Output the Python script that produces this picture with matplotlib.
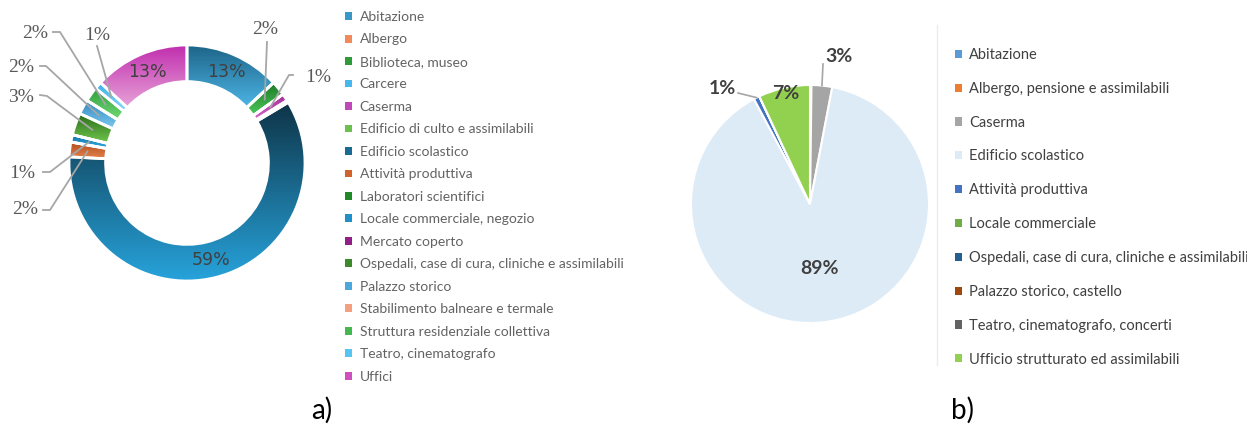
import numpy as np
import matplotlib.pyplot as plt
from matplotlib.patches import Patch
from matplotlib.colors import LinearSegmentedColormap

W, H = 1247, 425

# ---- chart a) data ----
cat_a = ['Abitazione', 'Albergo', 'Biblioteca, museo', 'Carcere', 'Caserma',
         'Edificio di culto e assimilabili', 'Edificio scolastico',
         'Attività produttiva', 'Laboratori scientifici',
         'Locale commerciale, negozio', 'Mercato coperto',
         'Ospedali, case di cura, cliniche e assimilabili', 'Palazzo storico',
         'Stabilimento balneare e termale', 'Struttura residenziale collettiva',
         'Teatro, cinematografo', 'Uffici']
val_a = [13, 0, 2, 0, 1, 0.3, 59, 2, 0, 1, 0, 3, 2, 0, 2, 1, 13]
top_a = ['#1D6488', '#E8743C', '#1E7A2A', '#2AA0D8', '#A02C98', '#5AB040',
         '#0E3447', '#B04E1E', '#186A1C', '#16709E', '#70186E', '#2A6A1C',
         '#3488C0', '#F0946A', '#2E9E3E', '#3AAEE6', '#C02EAE']
bot_a = ['#4DB6E6', '#F5A27A', '#4CCB5A', '#6CCCF4', '#DA6ACA', '#90DC78',
         '#27A3DB', '#E6824C', '#3AA040', '#34B2EA', '#B040A8', '#70C64C',
         '#7CCAF0', '#F8C0A0', '#72DA74', '#86DAF8', '#E8A4D8']
leg_a = ['#3A98C8', '#F08A5A', '#2E9A3A', '#48B8EC', '#C048B8', '#6CC050',
         '#1A6A96', '#D0622C', '#208A28', '#2090C8', '#902088', '#3C8A2C',
         '#4AA8DC', '#F4A080', '#44B850', '#58C4F2', '#D050C0']

# ---- chart b) data ----
cat_b = ['Abitazione', 'Albergo, pensione e assimilabili', 'Caserma',
         'Edificio scolastico', 'Attività produttiva', 'Locale commerciale',
         'Ospedali, case di cura, cliniche e assimilabili',
         'Palazzo storico, castello', 'Teatro, cinematografo, concerti',
         'Ufficio strutturato ed assimilabili']
val_b = [0.2, 0, 2.8, 89.2, 0.8, 0, 0, 0, 0, 7.0]
col_b = ['#5B9BD5', '#ED7D31', '#A5A5A5', '#DDEBF7', '#4472C4', '#70AD47',
         '#255E91', '#9E480E', '#636363', '#92D050']

fig = plt.figure(figsize=(W / 100, H / 100), dpi=100)


def px_axes(cx, cy, half):
    ax = fig.add_axes([(cx - half) / W, (H - cy - half) / H, 2 * half / W, 2 * half / H])
    ax.set_axis_off()
    return ax


def mid_point(w, r):
    t = np.deg2rad((w.theta1 + w.theta2) / 2)
    return r * np.cos(t), r * np.sin(t)


# ---------------- a) donut ----------------
ca_x, ca_y, ra = 187, 163, 118
ax_a = px_axes(ca_x, ca_y, 150)
wedges, _ = ax_a.pie(val_a, colors=top_a, startangle=90, counterclock=False,
                     wedgeprops=dict(width=0.31, linewidth=0))
grad = np.linspace(0, 1, 128).reshape(-1, 1)
for w, v, c1, c2 in zip(wedges, val_a, top_a, bot_a):
    if v == 0:
        continue
    e = w.get_path().get_extents()
    cm = LinearSegmentedColormap.from_list('g', [c1, c2])
    im = ax_a.imshow(grad, cmap=cm, extent=[e.x0, e.x1, e.y0, e.y1],
                     origin='upper', aspect='auto', zorder=2)
    im.set_clip_path(w)
edges, _ = ax_a.pie(val_a, startangle=90, counterclock=False,
                    wedgeprops=dict(width=0.31, fill=False, edgecolor='white', linewidth=2))
for e in edges:
    e.set_zorder(3)
lim = 150 / ra
ax_a.set_xlim(-lim, lim)
ax_a.set_ylim(-lim, lim)
ax_a.set_aspect('equal')


def to_a(px, py):
    return (px - ca_x) / ra, (ca_y - py) / ra


# labels inside the ring
for w, v in zip(wedges, val_a):
    if v >= 10:
        x, y = mid_point(w, 0.845)
        ax_a.text(x, y, f'{v:.0f}%', ha='center', va='center', fontsize=12.5,
                  color='#404040', zorder=5)

# labels outside with leader lines: text position, line points (px)
out_a = {
    2: ((265, 30), [(267, 42)]),
    4: ((318, 77), [(293, 75), (289, 75)]),
    7: ((25, 210), [(43, 210), (50, 210)]),
    9: ((22, 173), [(43, 172), (50, 172)]),
    11: ((21, 97), [(40, 95), (47, 96)]),
    12: ((21, 68), [(40, 66), (46, 66)]),
    14: ((35, 33), [(53, 32), (60, 32)]),
    15: ((97, 35), [(97, 46)]),
}
for i, (tp, pts) in out_a.items():
    tx, ty = to_a(*tp)
    ax_a.text(tx, ty, f'{val_a[i]:.0f}%', ha='center', va='center', fontsize=14,
              family='Liberation Serif', color='#595959', zorder=5)
    wx, wy = mid_point(wedges[i], 0.85)
    xs = [to_a(*p)[0] for p in pts] + [wx]
    ys = [to_a(*p)[1] for p in pts] + [wy]
    ax_a.plot(xs, ys, color='#A6A6A6', lw=1.3, zorder=4, clip_on=False)

fig.legend(handles=[Patch(facecolor=c, edgecolor='none') for c in leg_a], labels=cat_a,
           loc='upper left', bbox_to_anchor=(345 / W, 1 - 11 / H), frameon=False,
           prop=dict(family='Lato', size=10), labelcolor='#636363',
           handlelength=0.5, handleheight=0.5, handletextpad=0.55,
           labelspacing=0.755, borderpad=0, borderaxespad=0)

# ---------------- b) pie ----------------
cb_x, cb_y, rb = 810, 204, 119
ax_b = px_axes(cb_x, cb_y, 150)
wb, _ = ax_b.pie(val_b, colors=col_b, startangle=90, counterclock=False,
                 wedgeprops=dict(edgecolor='white', linewidth=1.5))
lim = 150 / rb
ax_b.set_xlim(-lim, lim)
ax_b.set_ylim(-lim, lim)
ax_b.set_aspect('equal')


def to_b(px, py):
    return (px - cb_x) / rb, (cb_y - py) / rb


lab_b = dict(family='Lato', fontsize=14, fontweight='bold', color='#404040',
             ha='center', va='center', zorder=5)
x, y = mid_point(wb[3], 0.55)
ax_b.text(x, y, f'{val_b[3]:.0f}%', **lab_b)
x, y = mid_point(wb[9], 0.95)
ax_b.text(x, y, f'{val_b[9]:.0f}%', **lab_b)
# 3% caserma
tx, ty = to_b(839, 57)
ax_b.text(tx, ty, f'{val_b[2]:.0f}%', **lab_b)
wx, wy = mid_point(wb[2], 1.0)
ax_b.plot([to_b(823, 64)[0], wx], [to_b(823, 64)[1], wy], color='#A6A6A6', lw=1.2, clip_on=False)
# 1% attività produttiva
tx, ty = to_b(722, 89)
ax_b.text(tx, ty, f'{val_b[4]:.0f}%', **lab_b)
wx, wy = mid_point(wb[4], 1.0)
ax_b.plot([to_b(738, 93)[0], wx], [to_b(738, 93)[1], wy], color='#A6A6A6', lw=1.2, clip_on=False)

fig.legend(handles=[Patch(facecolor=c, edgecolor='none') for c in col_b], labels=cat_b,
           loc='upper left', bbox_to_anchor=(955 / W, 1 - 48 / H), frameon=False,
           prop=dict(family='Lato', size=10.5), labelcolor='#404040',
           handlelength=0.5, handleheight=0.5, handletextpad=0.45,
           labelspacing=1.36, borderpad=0, borderaxespad=0)

# faint chart-area border
fig.add_artist(plt.Line2D([937 / W, 937 / W], [1 - 365 / H, 1 - 25 / H], color='#EBEBEB', lw=1))

fig.text(322 / W, 1 - 410 / H, 'a)', ha='center', va='center', family='Lato', fontsize=20, color='black')
fig.text(963 / W, 1 - 410 / H, 'b)', ha='center', va='center', family='Lato', fontsize=20, color='black')

fig.savefig('out.png', dpi=100)
